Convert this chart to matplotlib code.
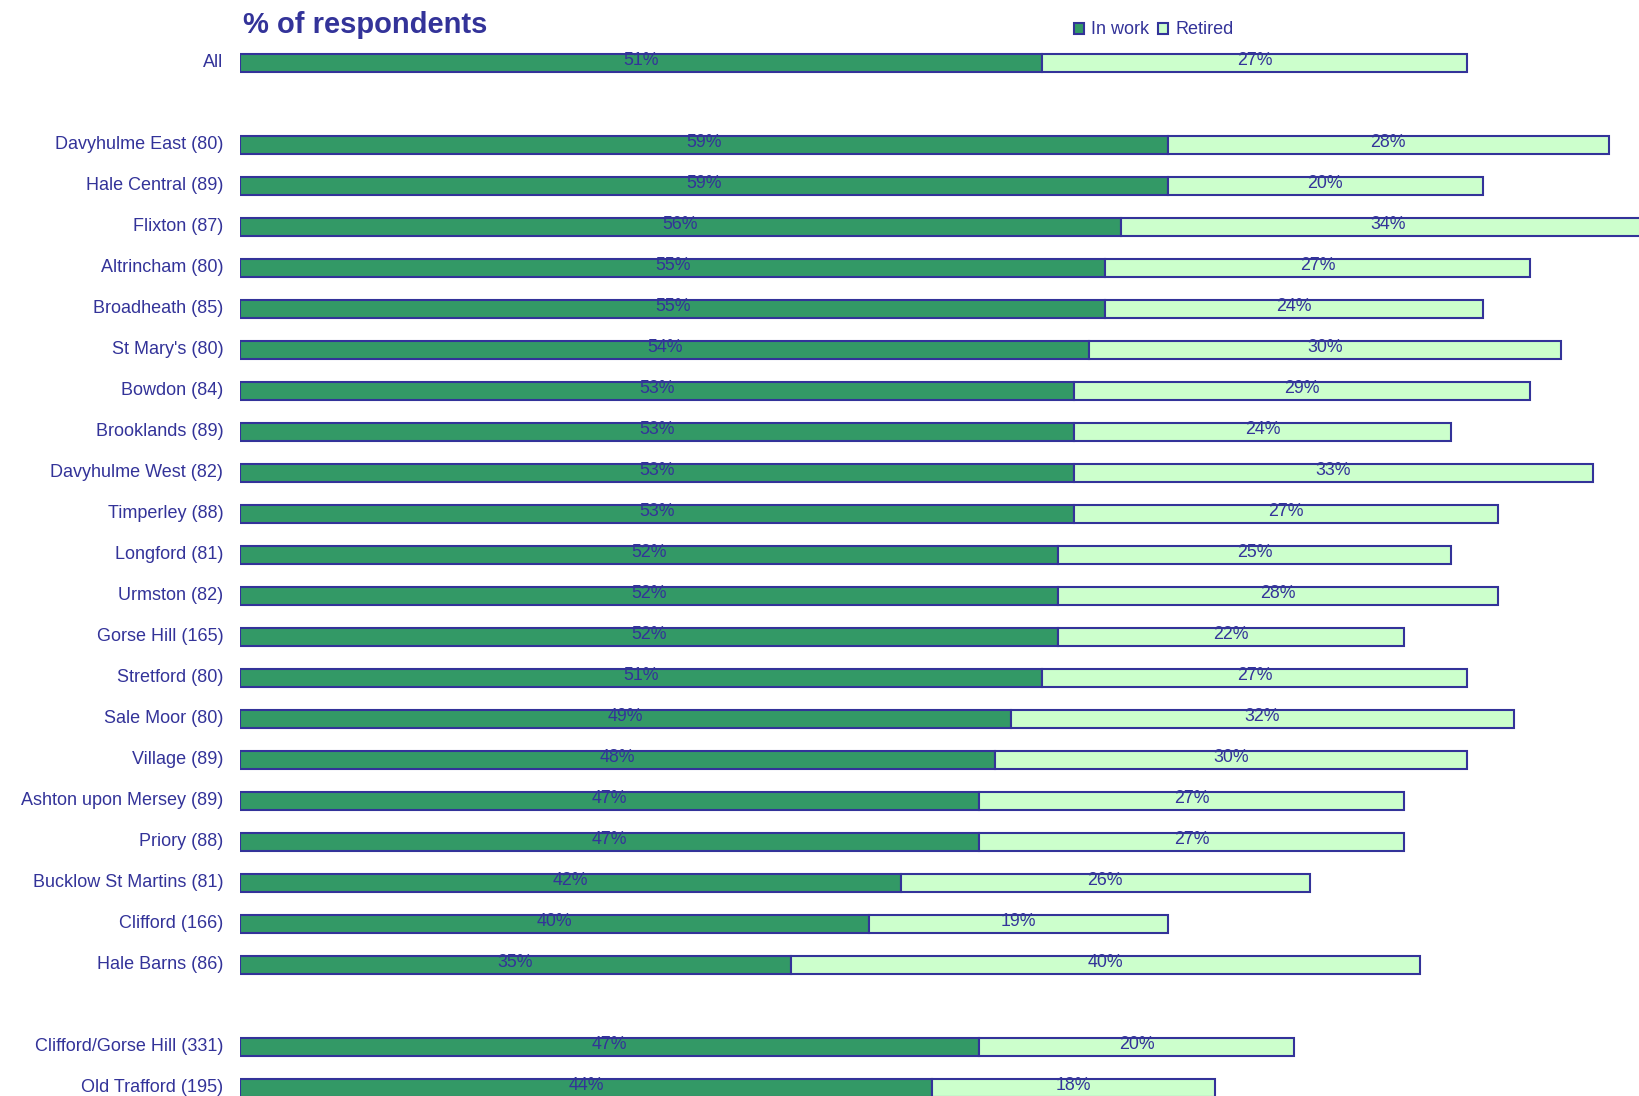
import numpy as np
import matplotlib
matplotlib.use("Agg")
import matplotlib.pyplot as plt
from matplotlib.patches import Patch
from matplotlib.transforms import ScaledTranslation

categories = ["All",
              "Davyhulme East (80)", "Hale Central (89)", "Flixton (87)", "Altrincham (80)",
              "Broadheath (85)", "St Mary's (80)", "Bowdon (84)", "Brooklands (89)",
              "Davyhulme West (82)", "Timperley (88)", "Longford (81)", "Urmston (82)",
              "Gorse Hill (165)", "Stretford (80)", "Sale Moor (80)", "Village (89)",
              "Ashton upon Mersey (89)", "Priory (88)", "Bucklow St Martins (81)",
              "Clifford (166)", "Hale Barns (86)",
              "Clifford/Gorse Hill (331)", "Old Trafford (195)"]
in_work = [51, 59, 59, 56, 55, 55, 54, 53, 53, 53, 53, 52, 52, 52, 51, 49, 48, 47, 47, 42, 40, 35, 47, 44]
retired = [27, 28, 20, 34, 27, 24, 30, 29, 24, 33, 27, 25, 28, 22, 27, 32, 30, 27, 27, 26, 19, 40, 20, 18]
series_names = ["In work", "Retired"]
group_breaks = [1, 22]  # a blank row is left before these category indices

NAVY = "#333399"
GREEN = "#339966"
LIGHT = "#CCFFCC"

plt.rcParams['font.family'] = ['Liberation Sans', 'DejaVu Sans']

fig = plt.figure(figsize=(16.4, 10.96), dpi=100)
ax = fig.add_axes([240/1640, 0, 1 - 240/1640, 1])

n = len(categories)
pos = np.arange(n, dtype=float)
for b in group_breaks:
    pos[b:] += 1

h = 0.45
ax.barh(pos, in_work, height=h, color=GREEN, edgecolor=NAVY, linewidth=1.5, label=series_names[0])
ax.barh(pos, retired, left=in_work, height=h, color=LIGHT, edgecolor=NAVY, linewidth=1.5, label=series_names[1])

for y, a, r in zip(pos, in_work, retired):
    ax.text(a / 2, y - 0.05, f"{a}%", ha="center", va="center", color=NAVY, fontsize=12.8)
    ax.text(a + r / 2, y - 0.05, f"{r}%", ha="center", va="center", color=NAVY, fontsize=12.8)

ax.set_xlim(0, (1640 - 240) / 15.73)
ax.set_ylim(25.2, -1.53)
ax.set_yticks(pos, categories)
ax.tick_params(axis="y", length=0, pad=12, labelsize=13, labelcolor=NAVY)
shift = ScaledTranslation(0, 1.4/72, fig.dpi_scale_trans)
for lab in ax.get_yticklabels():
    lab.set_transform(lab.get_transform() + shift)
ax.set_xticks([])
for s in ax.spines.values():
    s.set_visible(False)

fig.text(243/1640, 1 - 25/1096, "% of respondents", fontsize=21, fontweight="bold",
         color=NAVY, ha="left", va="center")

handles = [Patch(facecolor=GREEN, edgecolor=NAVY, linewidth=1.5),
           Patch(facecolor=LIGHT, edgecolor=NAVY, linewidth=1.5)]
leg = fig.legend(handles, series_names, loc="center left",
                 bbox_to_anchor=(1074/1640, 1 - 30/1096), ncol=2, frameon=False,
                 handlelength=0.55, handleheight=0.55, handletextpad=0.4,
                 columnspacing=0.5, borderpad=0, borderaxespad=0, fontsize=13)
for t in leg.get_texts():
    t.set_color(NAVY)

fig.savefig("out.png", dpi=100)
